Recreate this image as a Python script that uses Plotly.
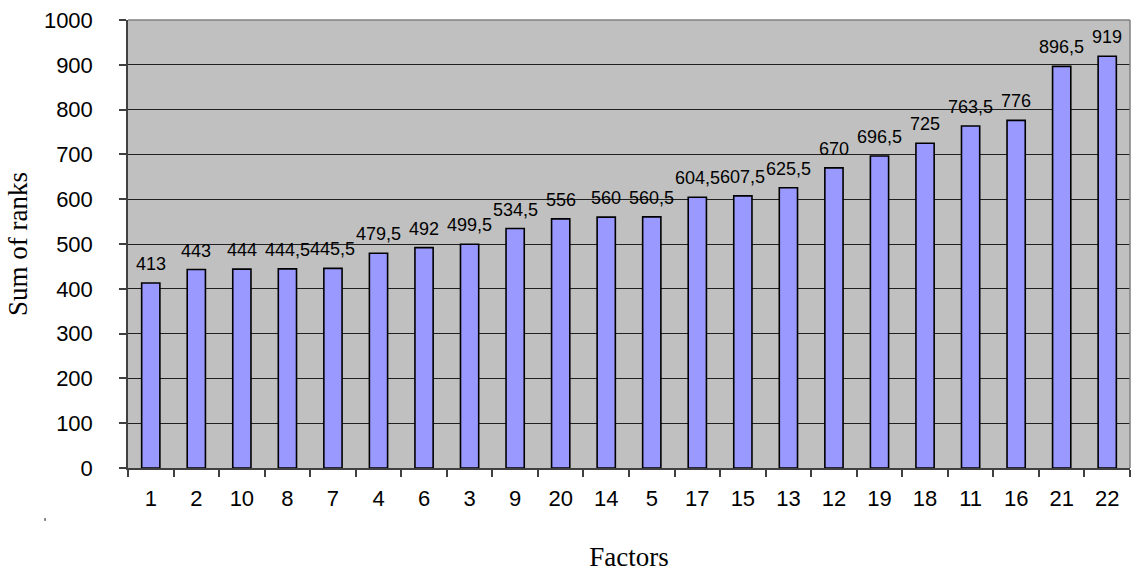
import plotly.graph_objects as go

# Factors ordered by their sum of ranks
factors = ["1", "2", "10", "8", "7", "4", "6", "3", "9", "20", "14",
           "5", "17", "15", "13", "12", "19", "18", "11", "16", "21", "22"]
rank_sums = [413, 443, 444, 444.5, 445.5, 479.5, 492, 499.5, 534.5, 556, 560,
             560.5, 604.5, 607.5, 625.5, 670, 696.5, 725, 763.5, 776, 896.5, 919]
y_ticks = list(range(0, 1001, 100))


def fmt(v):
    # decimal comma, no trailing ",0" for whole numbers
    if float(v).is_integer():
        return str(int(v))
    return f"{v}".replace(".", ",")


fig = go.Figure()
fig.add_trace(go.Bar(
    x=factors,
    y=rank_sums,
    marker=dict(color="#9999FF", line=dict(color="#000000", width=1.6)),
    hoverinfo="skip",
))

# value labels above the bars (category axis positions are given by index)
annotations = [
    dict(x=i, y=v, text=fmt(v), xref="x", yref="y", showarrow=False,
         yanchor="bottom", xanchor="center", yshift=7,
         font=dict(family="Liberation Sans, Arial, sans-serif", size=18, color="#000000"))
    for i, v in enumerate(rank_sums)
]

fig.update_layout(
    width=1134,
    height=572,
    margin=dict(l=128, r=4, t=20, b=104),
    paper_bgcolor="#FFFFFF",
    plot_bgcolor="#C0C0C0",
    bargap=0.6,
    showlegend=False,
    annotations=annotations,
    shapes=[
        # plot-area frame (top and right edges)
        dict(type="line", xref="paper", yref="paper", x0=0, x1=1, y0=1, y1=1,
             line=dict(color="#808080", width=1.5)),
        dict(type="line", xref="paper", yref="paper", x0=1, x1=1, y0=0, y1=1,
             line=dict(color="#808080", width=1.5)),
        dict(type="line", xref="paper", yref="paper", x0=-0.0828, x1=-0.0828,
             y0=-0.112, y1=-0.118, line=dict(color="#000000", width=1)),
    ],
    xaxis=dict(
        type="category",
        categoryorder="array",
        categoryarray=factors,
        range=[-0.5, len(factors) - 0.5],
        automargin=False,
        showline=True, linecolor="#404040", linewidth=1.5,
        ticks="outside", ticklen=7, tickcolor="#404040", tickwidth=1.5,
        tickson="boundaries",
        ticklabelstandoff=10,
        showgrid=False,
        tickfont=dict(family="Liberation Sans, Arial, sans-serif", size=22, color="#000000"),
        title=dict(text="Factors", standoff=42,
                   font=dict(family="Liberation Serif, Times New Roman, serif", size=27, color="#000000")),
    ),
    yaxis=dict(
        range=[0, 1000],
        tickvals=y_ticks,
        automargin=False,
        showline=True, linecolor="#404040", linewidth=1.5,
        ticks="outside", ticklen=7, tickcolor="#404040", tickwidth=1.5,
        ticklabelstandoff=22,
        showgrid=True, gridcolor="#202020", gridwidth=1,
        zeroline=False,
        tickfont=dict(family="Liberation Sans, Arial, sans-serif", size=22, color="#000000"),
        title=dict(text="Sum of ranks", standoff=8,
                   font=dict(family="Liberation Serif, Times New Roman, serif", size=27, color="#000000")),
    ),
)

fig.write_html("out.html")
